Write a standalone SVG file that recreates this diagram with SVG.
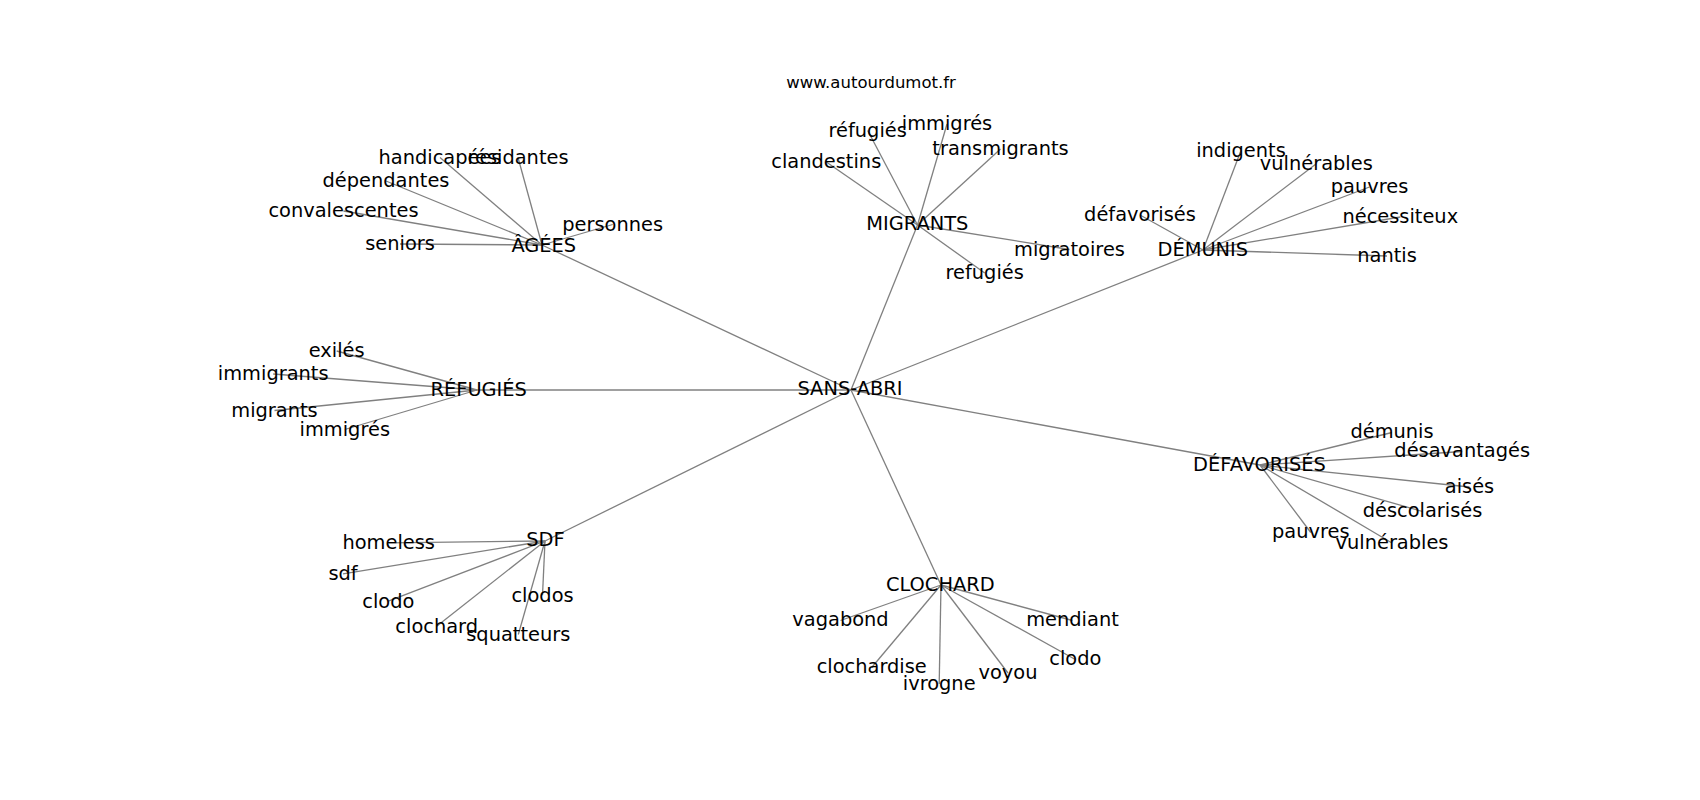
<svg xmlns="http://www.w3.org/2000/svg" width="1700" height="800" viewBox="0 0 1700 800">
<style>
text{font-family:"DejaVu Sans","Liberation Sans",sans-serif;font-size:19.4px;fill:#000;text-anchor:middle}
.title{font-size:16.5px}
.e line{stroke:#808080;stroke-width:1.3;fill:none}
</style>
<rect width="1700" height="800" fill="#fff"/>
<g class="e" id="connectors">
<line x1="851" y1="390" x2="542" y2="245"/>
<line x1="851" y1="390" x2="917.5" y2="225"/>
<line x1="851" y1="390" x2="1203" y2="250"/>
<line x1="851" y1="390" x2="477" y2="390"/>
<line x1="851" y1="390" x2="545" y2="541"/>
<line x1="851" y1="390" x2="941" y2="585"/>
<line x1="851" y1="390" x2="1260" y2="465"/>
<line x1="542" y1="245" x2="440" y2="157.5"/>
<line x1="542" y1="245" x2="518" y2="157.5"/>
<line x1="542" y1="245" x2="386" y2="181"/>
<line x1="542" y1="245" x2="343.5" y2="211"/>
<line x1="542" y1="245" x2="400" y2="244"/>
<line x1="542" y1="245" x2="612.7" y2="224.5"/>
<line x1="917.5" y1="225" x2="867.7" y2="130.5"/>
<line x1="917.5" y1="225" x2="947" y2="124"/>
<line x1="917.5" y1="225" x2="1000.5" y2="149"/>
<line x1="917.5" y1="225" x2="826.3" y2="162"/>
<line x1="917.5" y1="225" x2="1069.5" y2="249.5"/>
<line x1="917.5" y1="225" x2="984.7" y2="273"/>
<line x1="1203" y1="250" x2="1241" y2="150.5"/>
<line x1="1203" y1="250" x2="1316.3" y2="163.8"/>
<line x1="1203" y1="250" x2="1369.5" y2="187"/>
<line x1="1203" y1="250" x2="1140" y2="215"/>
<line x1="1203" y1="250" x2="1400.3" y2="217"/>
<line x1="1203" y1="250" x2="1387" y2="256"/>
<line x1="477" y1="390" x2="336.7" y2="351"/>
<line x1="477" y1="390" x2="273.2" y2="374"/>
<line x1="477" y1="390" x2="274.5" y2="410.5"/>
<line x1="477" y1="390" x2="344.8" y2="429.5"/>
<line x1="545" y1="541" x2="388.7" y2="542.8"/>
<line x1="545" y1="541" x2="343" y2="573.8"/>
<line x1="545" y1="541" x2="388.3" y2="601.2"/>
<line x1="545" y1="541" x2="542.5" y2="595.2"/>
<line x1="545" y1="541" x2="436.7" y2="626.2"/>
<line x1="545" y1="541" x2="518.3" y2="634.5"/>
<line x1="941" y1="585" x2="840.5" y2="620.5"/>
<line x1="941" y1="585" x2="1072.5" y2="620.5"/>
<line x1="941" y1="585" x2="1075.3" y2="659.5"/>
<line x1="941" y1="585" x2="871.7" y2="667.5"/>
<line x1="941" y1="585" x2="1008" y2="673"/>
<line x1="941" y1="585" x2="939.2" y2="684"/>
<line x1="1260" y1="465" x2="1392" y2="432.5"/>
<line x1="1260" y1="465" x2="1462.2" y2="451.5"/>
<line x1="1260" y1="465" x2="1469.5" y2="487"/>
<line x1="1260" y1="465" x2="1422.5" y2="511.5"/>
<line x1="1260" y1="465" x2="1310.8" y2="532.5"/>
<line x1="1260" y1="465" x2="1392" y2="543"/>
</g>
<text class="title" x="871" y="88">www.autourdumot.fr</text>
<g id="n-sans-abri"><text x="850" y="395">SANS-ABRI</text></g>
<g id="n-agees"><text x="543.8" y="251.7">ÂGÉES</text></g>
<g id="n-migrants"><text x="917.3" y="230">MIGRANTS</text></g>
<g id="n-demunis"><text x="1202.8" y="256">DÉMUNIS</text></g>
<g id="n-refugies"><text x="478.7" y="396">RÉFUGIÉS</text></g>
<g id="n-sdf"><text x="545.5" y="546">SDF</text></g>
<g id="n-clochard"><text x="940.3" y="590.7">CLOCHARD</text></g>
<g id="n-defavorises"><text x="1259.5" y="470.7">DÉFAVORISÉS</text></g>
<g id="n-handicapees"><text x="440" y="163.5">handicapées</text></g>
<g id="n-residantes"><text x="518" y="163.5">résidantes</text></g>
<g id="n-dependantes"><text x="386" y="187">dépendantes</text></g>
<g id="n-convalescentes"><text x="343.5" y="217">convalescentes</text></g>
<g id="n-seniors"><text x="400" y="250">seniors</text></g>
<g id="n-personnes"><text x="612.7" y="230.5">personnes</text></g>
<g id="n-refugies-m"><text x="867.7" y="136.5">réfugiés</text></g>
<g id="n-immigres-m"><text x="947" y="130">immigrés</text></g>
<g id="n-transmigrants"><text x="1000.5" y="155">transmigrants</text></g>
<g id="n-clandestins"><text x="826.3" y="168">clandestins</text></g>
<g id="n-migratoires"><text x="1069.5" y="255.5">migratoires</text></g>
<g id="n-refugies2"><text x="984.7" y="279">refugiés</text></g>
<g id="n-indigents"><text x="1241" y="156.5">indigents</text></g>
<g id="n-vulnerables-d"><text x="1316.3" y="170">vulnérables</text></g>
<g id="n-pauvres-d"><text x="1369.5" y="193">pauvres</text></g>
<g id="n-defavorises-d"><text x="1140" y="221">défavorisés</text></g>
<g id="n-necessiteux"><text x="1400.3" y="223">nécessiteux</text></g>
<g id="n-nantis"><text x="1387" y="262">nantis</text></g>
<g id="n-exiles"><text x="336.7" y="357">exilés</text></g>
<g id="n-immigrants"><text x="273.2" y="379.5">immigrants</text></g>
<g id="n-migrants-r"><text x="274.5" y="416.5">migrants</text></g>
<g id="n-immigres-r"><text x="344.8" y="435.5">immigrés</text></g>
<g id="n-homeless"><text x="388.7" y="549">homeless</text></g>
<g id="n-sdf-l"><text x="343" y="580">sdf</text></g>
<g id="n-clodo-s"><text x="388.3" y="607.5">clodo</text></g>
<g id="n-clodos"><text x="542.5" y="601.5">clodos</text></g>
<g id="n-clochard-s"><text x="436.7" y="632.5">clochard</text></g>
<g id="n-squatteurs"><text x="518.3" y="641">squatteurs</text></g>
<g id="n-vagabond"><text x="840.5" y="626">vagabond</text></g>
<g id="n-mendiant"><text x="1072.5" y="626">mendiant</text></g>
<g id="n-clodo-c"><text x="1075.3" y="665">clodo</text></g>
<g id="n-clochardise"><text x="871.7" y="673.2">clochardise</text></g>
<g id="n-voyou"><text x="1008" y="679">voyou</text></g>
<g id="n-ivrogne"><text x="939.2" y="690">ivrogne</text></g>
<g id="n-demunis-f"><text x="1392" y="438">démunis</text></g>
<g id="n-desavantages"><text x="1462.2" y="457">désavantagés</text></g>
<g id="n-aises"><text x="1469.5" y="492.5">aisés</text></g>
<g id="n-descolarises"><text x="1422.5" y="517">déscolarisés</text></g>
<g id="n-pauvres-f"><text x="1310.8" y="538">pauvres</text></g>
<g id="n-vulnerables-f"><text x="1392" y="548.5">vulnérables</text></g>
</svg>
